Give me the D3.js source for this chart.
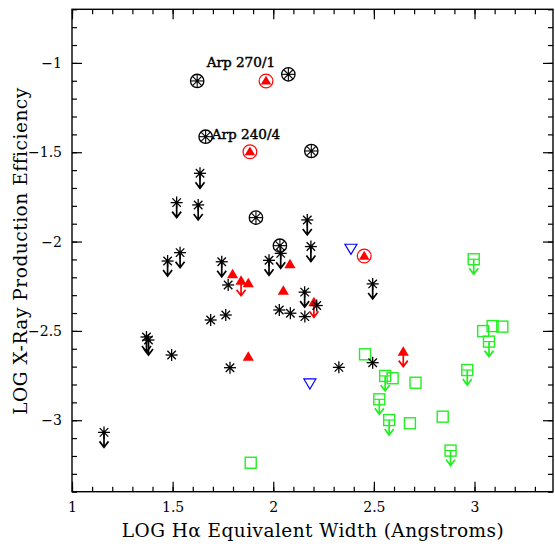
<!DOCTYPE html>
<html><head><meta charset="utf-8">
<script src="https://cdn.jsdelivr.net/npm/d3@7"></script>
<style>body{margin:0;background:#fff}svg{display:block}</style>
</head><body><svg id="c" width="555" height="546"></svg>
<script>
// ---------- data ----------
const xDomain = [1, 3.39];
const yDomain = [-3.4, -0.7];
const xTicks = [1, 1.5, 2, 2.5, 3];
const yTicks = [-1, -1.5, -2, -2.5, -3];

// black asterisks (detections)
const starX = [1.495, 1.689, 1.764, 1.776, 1.785, 2.030, 2.085, 2.157, 2.216, 2.326, 2.494];
const starY = [-2.635, -2.439, -2.411, -2.243, -2.706, -2.383, -2.401, -2.420, -2.358, -2.704, -2.678];
// black asterisks with upper-limit arrows
const starLimX = [1.636, 1.520, 1.627, 1.537, 1.475, 1.744, 2.169, 2.187, 1.979, 2.037, 2.156, 2.494, 1.370, 1.380, 1.159];
const starLimY = [-1.618, -1.782, -1.795, -2.062, -2.109, -2.113, -1.879, -2.028, -2.105, -2.066, -2.283, -2.237, -2.534, -2.551, -3.068];
// circled asterisks
const circStarX = [1.622, 2.075, 1.664, 2.189, 1.914, 2.033];
const circStarY = [-1.101, -1.064, -1.413, -1.493, -1.866, -2.023];
// red filled triangles
const triX = [2.083, 1.798, 1.876, 2.050, 1.876];
const triY = [-2.127, -2.183, -2.234, -2.275, -2.644];
// red triangles with upper-limit arrows
const triLimX = [1.840, 2.202, 2.646];
const triLimY = [-2.219, -2.340, -2.616];
// circled red triangles
const circTriX = [1.964, 1.884, 2.452];
const circTriY = [-1.101, -1.497, -2.081];
// blue open inverted triangles
const invTriX = [2.386, 2.182];
const invTriY = [-2.043, -2.797];
// green open squares
const sqX = [2.456, 2.593, 2.707, 2.679, 2.842, 3.043, 3.090, 3.138, 1.888];
const sqY = [-2.631, -2.765, -2.790, -3.017, -2.980, -2.501, -2.473, -2.476, -3.238];
// green squares with upper-limit arrows
const sqLimX = [2.556, 2.527, 2.576, 2.964, 3.072, 2.881, 2.996];
const sqLimY = [-2.752, -2.883, -2.999, -2.719, -2.560, -3.170, -2.099];
// annotations
const noteText = ["Arp 270/1", "Arp 240/4"];
const noteX = [1.669, 1.694];
const noteY = [-1.023, -1.426];

const xTitle = "LOG H\u03b1 Equivalent Width (Angstroms)";
const yTitle = "LOG X-Ray Production Efficiency";

// ---------- layout ----------
const L = 72, R = 553, T = 9.3, B = 491.7;
const FONT = "'DejaVu Serif', serif";
const RED = "#ff0000", BLUE = "#0000ff", GREEN = "#22ee22";

const svg = d3.select("#c");
const x = d3.scaleLinear().domain(xDomain).range([L, R]);
const y = d3.scaleLinear().domain(yDomain).range([B, T]);

const fmt = v => (v < 0 ? "\u2212" : "") + Math.abs(v);
const xMinor = d3.range(10, 34).map(d => d / 10);
const yMinor = d3.range(-34, -6).map(d => d / 10);

function axisG(axis, tx, ty, labels) {
  const g = svg.append("g").attr("transform", `translate(${tx},${ty})`).call(axis);
  g.select(".domain").remove();
  g.selectAll(".tick line").attr("stroke", "#000").attr("stroke-width", 1.2);
  g.selectAll("text").attr("font-family", FONT).attr("font-size", 14).attr("fill", "#000");
  if (!labels) g.selectAll("text").remove();
  return g;
}
// bottom
axisG(d3.axisBottom(x).tickValues(xMinor).tickSize(-5).tickFormat(""), 0, B, false);
axisG(d3.axisBottom(x).tickValues(xTicks).tickSize(-10).tickPadding(10).tickFormat(fmt), 0, B, true);
// top
axisG(d3.axisTop(x).tickValues(xMinor).tickSize(-5).tickFormat(""), 0, T, false);
axisG(d3.axisTop(x).tickValues(xTicks).tickSize(-10).tickFormat(""), 0, T, false);
// left
axisG(d3.axisLeft(y).tickValues(yMinor).tickSize(-5).tickFormat(""), L, 0, false);
axisG(d3.axisLeft(y).tickValues(yTicks).tickSize(-10).tickPadding(10).tickFormat(fmt), L, 0, true);
// right
axisG(d3.axisRight(y).tickValues(yMinor).tickSize(-5).tickFormat(""), R, 0, false);
axisG(d3.axisRight(y).tickValues(yTicks).tickSize(-10).tickFormat(""), R, 0, false);

svg.append("rect").attr("x", L).attr("y", T).attr("width", R - L).attr("height", B - T)
  .attr("fill", "none").attr("stroke", "#000").attr("stroke-width", 1.4);

// titles
svg.append("text").attr("x", 313).attr("y", 537).attr("text-anchor", "middle")
  .attr("font-family", FONT).attr("font-size", 18.5).attr("letter-spacing", 0.45).text(xTitle);
svg.append("text").attr("transform", `translate(27,${251}) rotate(-90)`).attr("text-anchor", "middle")
  .attr("font-family", FONT).attr("font-size", 18.5).attr("letter-spacing", 0.55).text(yTitle);

// ---------- marker helpers ----------
const plot = svg.append("g");
function pts(xs, ys) { return xs.map((v, i) => [x(v), y(ys[i])]); }

function drawStar(g, r, col, w) {
  for (let k = 0; k < 4; k++) {
    const a = k * Math.PI / 4;
    g.append("line").attr("x1", -r * Math.cos(a)).attr("y1", -r * Math.sin(a))
      .attr("x2", r * Math.cos(a)).attr("y2", r * Math.sin(a))
      .attr("stroke", col).attr("stroke-width", w || 1.3);
  }
}
function drawArrow(g, col) {
  g.append("path").attr("d", "M0,0 L0,15 M-4.5,9 L0,15 L4.5,9")
    .attr("fill", "none").attr("stroke", col).attr("stroke-width", 1.7)
    .attr("stroke-linejoin", "miter");
}
function place(data, fn) {
  data.forEach(([px, py]) => {
    const g = plot.append("g").attr("transform", `translate(${px},${py})`);
    fn(g);
  });
}
const triPath = "M0,-5.5 L5.6,4 L-5.6,4 Z";

// red triangles
place(pts(triX, triY), g => g.append("path").attr("d", triPath).attr("fill", RED));
place(pts(triLimX, triLimY), g => { drawArrow(g, RED); g.append("path").attr("d", triPath).attr("fill", RED); });
place(pts(circTriX, circTriY), g => {
  g.append("circle").attr("r", 6.9).attr("fill", "#fff").attr("stroke", RED).attr("stroke-width", 1.2);
  g.append("path").attr("d", "M0,-5.2 L5.3,3.6 L-5.3,3.6 Z").attr("fill", RED);
});
// blue inverted triangles
place(pts(invTriX, invTriY), g => g.append("path").attr("d", "M-6,-5 L6,-5 L0,5 Z")
  .attr("fill", "none").attr("stroke", BLUE).attr("stroke-width", 1.2));
// green squares
place(pts(sqX, sqY), g => g.append("rect").attr("x", -5.5).attr("y", -5.5).attr("width", 11).attr("height", 11)
  .attr("fill", "none").attr("stroke", GREEN).attr("stroke-width", 1.4));
place(pts(sqLimX, sqLimY), g => {
  g.append("rect").attr("x", -5.5).attr("y", -5.5).attr("width", 11).attr("height", 11)
    .attr("fill", "none").attr("stroke", GREEN).attr("stroke-width", 1.4);
  g.append("line").attr("x1", -5.5).attr("x2", 5.5).attr("y1", 0).attr("y2", 0)
    .attr("stroke", GREEN).attr("stroke-width", 1.2);
  drawArrow(g, GREEN);
});
// black asterisks
place(pts(starX, starY), g => { drawStar(g, 6, "#000"); g.append("circle").attr("r", 1.3).attr("fill", "#000"); });
place(pts(starLimX, starLimY), g => { drawStar(g, 6, "#000"); drawArrow(g, "#000");
  g.append("circle").attr("r", 1.8).attr("fill", "#000"); });
place(pts(circStarX, circStarY), g => {
  g.append("circle").attr("r", 6.7).attr("fill", "none").attr("stroke", "#000").attr("stroke-width", 1.3);
  drawStar(g, 6.5, "#000", 1.1);
  g.append("circle").attr("r", 1.6).attr("fill", "#000");
});

// annotations
noteText.forEach((t, i) => {
  svg.append("text").attr("x", x(noteX[i])).attr("y", y(noteY[i]))
    .attr("font-family", FONT).attr("font-size", 13.6).attr("font-weight", "normal")
    .attr("stroke", "#000").attr("stroke-width", 0.45).text(t);
});
</script></body></html>
